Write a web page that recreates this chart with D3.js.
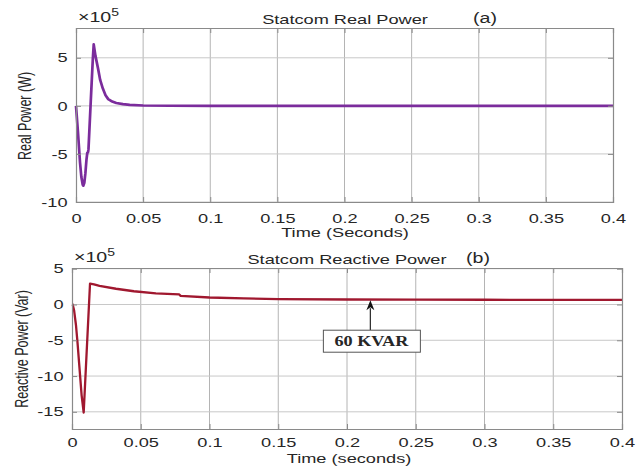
<!DOCTYPE html>
<html>
<head>
<meta charset="utf-8">
<script src="https://cdn.jsdelivr.net/npm/d3@7"></script>
<style>
    body { margin: 0; background: #fff; }
    svg text { font-family: "Liberation Sans", Arial, sans-serif; fill: #262626; }
</style>
</head>
<body>
<div id="chart"></div>
<script>
// time axis ticks (seconds)
var timeTicks = [0, 0.05, 0.1, 0.15, 0.2, 0.25, 0.3, 0.35, 0.4];

// (a) statcom real power, values in x10^5 W
var realTime = [0, 0.0015, 0.003, 0.004, 0.005, 0.0055, 0.0062, 0.007, 0.0078, 0.0084, 0.009, 0.0093,
    0.011, 0.0125, 0.0132, 0.0145, 0.0164, 0.018, 0.02, 0.022, 0.024, 0.027, 0.03, 0.035, 0.04, 0.05,
    0.07, 0.1, 0.2, 0.3, 0.4];
var realPower = [0, -2.8, -5.9, -7.4, -8.2, -8.3, -8.0, -7.0, -5.6, -4.9, -4.8, -4.5,
    0.5, 4.8, 6.4, 5.2, 3.9, 2.7, 1.8, 1.1, 0.7, 0.45, 0.3, 0.18, 0.1, 0.04,
    0.01, 0, 0, 0, 0];
var realTicks = [-10, -5, 0, 5];

// (b) statcom reactive power, values in x10^5 Var
var reactTime = [0, 0.0005, 0.0015, 0.0029, 0.004, 0.0053, 0.007, 0.0085, 0.0131, 0.016, 0.02, 0.032,
    0.045, 0.061, 0.0735, 0.078, 0.079, 0.1, 0.125, 0.15, 0.2, 0.25, 0.3, 0.4];
var reactPower = [0, 0, -0.8, -2.9, -5.3, -8.5, -12.7, -15.1, 2.9, 2.8, 2.6, 2.2,
    1.85, 1.55, 1.45, 1.4, 1.2, 0.98, 0.85, 0.76, 0.7, 0.68, 0.66, 0.65];
var reactTicks = [-15, -10, -5, 0, 5];

var annotTime = 0.217;
var annotValue = 0.6;
var annotLabel = "60 KVAR";

var width = 643, height = 466;
var stretch = 1.4; // text in the picture is widened

var svg = d3.select("#chart").append("svg")
    .attr("width", width)
    .attr("height", height);

function drawPanel(opt) {
    var x = d3.scaleLinear().domain([0, 0.4]).range([opt.left, opt.right]);
    var y = d3.scaleLinear().domain(opt.yDomain).range([opt.bottom, opt.top]);
    var g = svg.append("g");

    // grid
    g.selectAll(".vgrid").data(timeTicks.slice(1, -1)).enter().append("line")
        .attr("x1", function (d) { return x(d); })
        .attr("x2", function (d) { return x(d); })
        .attr("y1", opt.top).attr("y2", opt.bottom)
        .attr("stroke", "#b4b4b4").attr("stroke-width", 1);
    g.selectAll(".hgrid").data(opt.yTicks).enter().append("line")
        .attr("x1", opt.left).attr("x2", opt.right)
        .attr("y1", function (d) { return y(d); })
        .attr("y2", function (d) { return y(d); })
        .attr("stroke", "#c8c8c8").attr("stroke-width", 1);

    // data line
    var pts = opt.t.map(function (t, i) { return [t, opt.v[i]]; });
    var line = d3.line()
        .x(function (d) { return x(d[0]); })
        .y(function (d) { return y(d[1]); });
    g.append("path")
        .datum(pts)
        .attr("d", line)
        .attr("fill", "none")
        .attr("stroke", opt.color)
        .attr("stroke-width", opt.lineWidth)
        .attr("stroke-linejoin", "round");

    // axes
    var fmt = function (d) { return String(d); };
    g.append("g")
        .attr("transform", "translate(0," + opt.bottom + ")")
        .call(d3.axisBottom(x).tickValues(timeTicks).tickSize(-5).tickPadding(opt.xPad).tickFormat(fmt));
    g.append("g")
        .attr("transform", "translate(0," + opt.top + ")")
        .call(d3.axisTop(x).tickValues(timeTicks).tickSize(-5).tickFormat(""));
    g.append("g")
        .attr("transform", "translate(" + opt.left + ",0)")
        .call(d3.axisLeft(y).tickValues(opt.yTicks).tickSize(-5).tickPadding(6).tickFormat(fmt));
    g.append("g")
        .attr("transform", "translate(" + opt.right + ",0)")
        .call(d3.axisRight(y).tickValues(opt.yTicks).tickSize(-5).tickFormat(""));

    g.selectAll(".domain").attr("stroke", "#8a8a8a").attr("stroke-width", 1.2);
    g.selectAll(".tick line").attr("stroke", "#8a8a8a");
    g.selectAll(".tick text")
        .attr("font-size", 13)
        .attr("font-family", "Liberation Sans, Arial, sans-serif")
        .attr("fill", "#1e1e1e")
        .attr("transform", "scale(" + stretch + ",1)");

    // exponent
    var ex = g.append("text")
        .attr("transform", "translate(" + (opt.left + 2) + "," + (opt.top - 6) + ") scale(" + stretch + ",1)")
        .attr("font-size", 14)
        .attr("fill", "#333");
    ex.append("tspan").text("\u00d710");
    ex.append("tspan").attr("font-size", 10).attr("dy", -6).text("5");

    // titles
    g.append("text")
        .attr("transform", "translate(" + opt.titleX + "," + opt.titleY + ") scale(" + stretch + ",1)")
        .attr("text-anchor", "middle")
        .attr("font-size", 13)
        .attr("fill", "#111")
        .text(opt.title);
    g.append("text")
        .attr("transform", "translate(" + opt.tagX + "," + (opt.titleY - 1) + ") scale(" + stretch + ",1)")
        .attr("text-anchor", "middle")
        .attr("font-size", 14)
        .attr("fill", "#111")
        .text(opt.tag);
    g.append("text")
        .attr("transform", "translate(" + opt.xLabelX + "," + opt.xLabelY + ") scale(" + stretch + ",1)")
        .attr("text-anchor", "middle")
        .attr("font-size", 13)
        .attr("fill", "#111")
        .text(opt.xLabel);
    g.append("text")
        .attr("transform", "translate(" + opt.yLabelX + "," + opt.yLabelY + ") scale(" + stretch + ",1) rotate(-90)")
        .attr("text-anchor", "middle")
        .attr("dy", "0.35em")
        .attr("font-size", 12.5)
        .attr("fill", "#111")
        .text(opt.yLabel);

    return { x: x, y: y, g: g };
}

drawPanel({
    left: 76, right: 613, top: 28, bottom: 202,
    yDomain: [-10, 8.1], yTicks: realTicks,
    t: realTime, v: realPower, color: "#7b2c9c", lineWidth: 2.7,
    xPad: 12,
    title: "Statcom Real Power", titleX: 345, titleY: 24,
    tag: "(a)", tagX: 485,
    xLabel: "Time (Seconds)", xLabelX: 345, xLabelY: 237,
    yLabel: "Real Power (W)", yLabelX: 25, yLabelY: 116
});

var b = drawPanel({
    left: 72, right: 622, top: 268, bottom: 429,
    yDomain: [-17.4, 5.1], yTicks: reactTicks,
    t: reactTime, v: reactPower, color: "#a0182f", lineWidth: 2.3,
    xPad: 9,
    title: "Statcom Reactive Power", titleX: 347, titleY: 264,
    tag: "(b)", tagX: 478,
    xLabel: "Time (seconds)", xLabelX: 349, xLabelY: 463,
    yLabel: "Reactive Power (Var)", yLabelX: 22, yLabelY: 349
});

// annotation arrow + box
var ax = b.x(annotTime), ay = b.y(annotValue);
var ann = b.g.append("g");
ann.append("line")
    .attr("x1", ax).attr("x2", ax)
    .attr("y1", ay + 8).attr("y2", ay + 30)
    .attr("stroke", "#333").attr("stroke-width", 1.3);
ann.append("path")
    .attr("d", "M" + ax + "," + ay + " L" + (ax - 4) + "," + (ay + 10) + " L" + ax + "," + (ay + 7) + " L" + (ax + 4) + "," + (ay + 10) + " Z")
    .attr("fill", "#111");
ann.append("rect")
    .attr("x", ax - 47).attr("y", ay + 30)
    .attr("width", 97).attr("height", 22)
    .attr("fill", "#fff").attr("stroke", "#555").attr("stroke-width", 1);
ann.append("text")
    .attr("transform", "translate(" + (ax + 1) + "," + (ay + 46) + ") scale(1.3,1)")
    .attr("text-anchor", "middle")
    .attr("font-weight", "bold")
    .attr("font-size", 14)
    .attr("fill", "#1a1a1a")
    .style("font-family", "'Liberation Serif', 'Times New Roman', serif")
    .text(annotLabel);
</script>
</body>
</html>
